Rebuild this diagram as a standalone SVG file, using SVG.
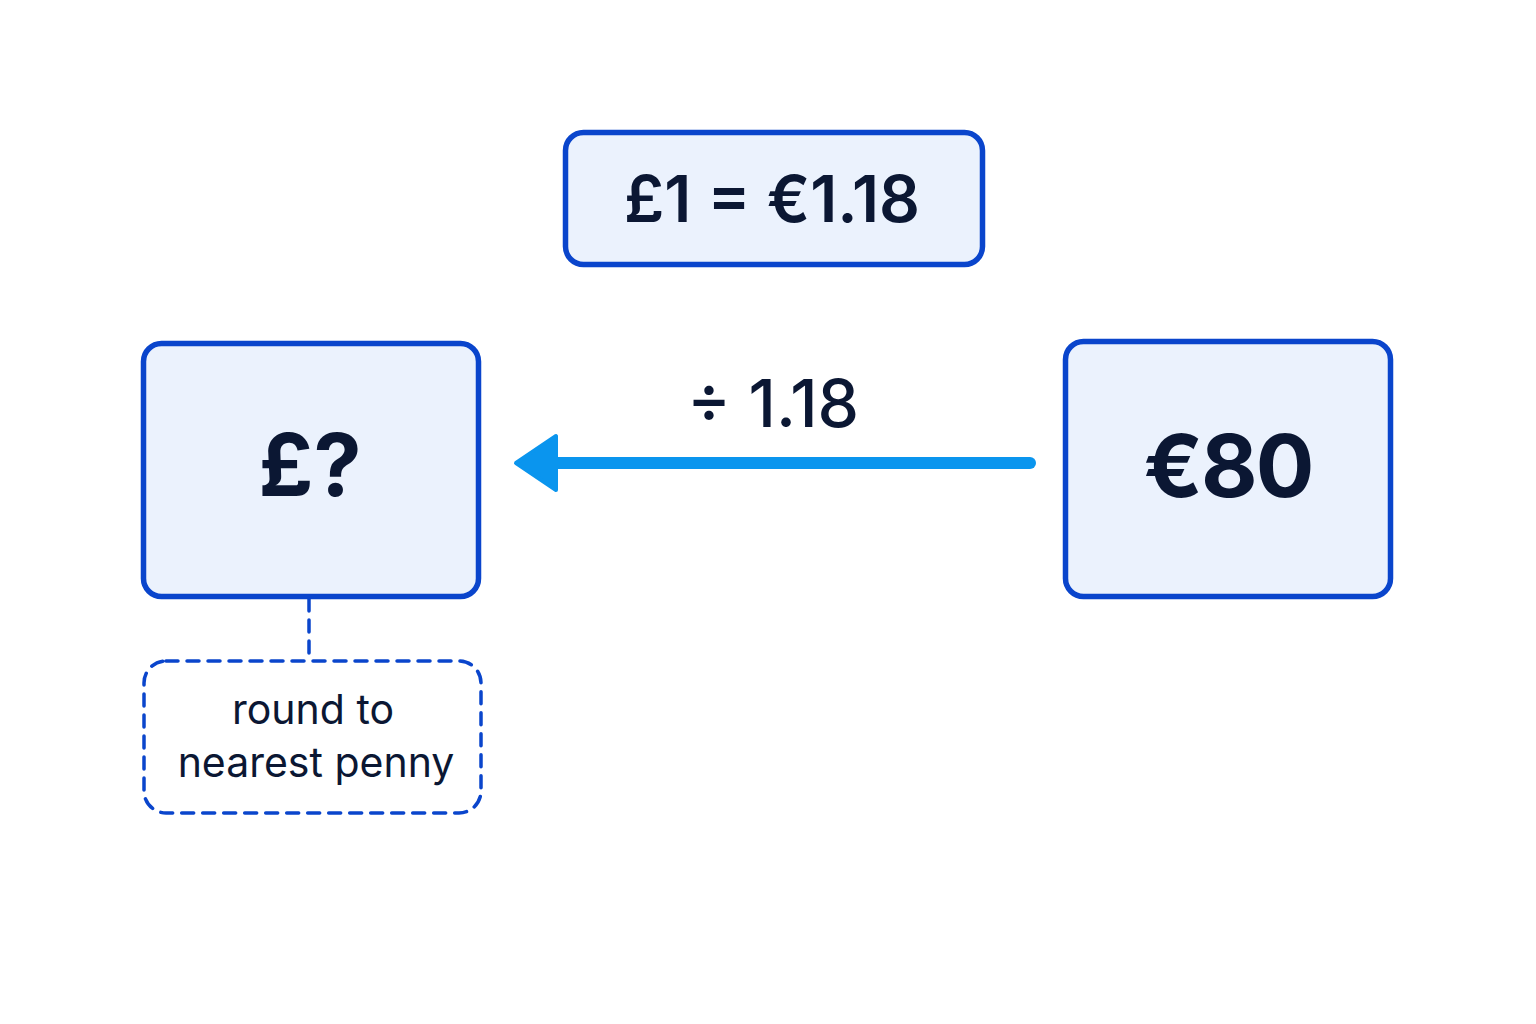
<svg xmlns="http://www.w3.org/2000/svg" width="1536" height="1024" viewBox="0 0 1536 1024">
<defs>
<style>
.box{fill:#EBF2FD;stroke:#0A45CC;stroke-width:5.5}
.note{fill:none;stroke:#0A45CC;stroke-width:3.5;stroke-dasharray:12 9;stroke-linecap:round}
.t{font-family:Inter,"Open Sans","Liberation Sans",sans-serif;fill:#0B1733;text-anchor:middle}
.b{font-weight:700}
.s{font-weight:600}
.m{font-weight:500}
.r{font-weight:400}
</style>
</defs>
<rect width="1536" height="1024" fill="#FFFFFF"/>
<g id="connectors">
<line x1="1030" y1="463" x2="550" y2="463" stroke="#0A95EE" stroke-width="12" stroke-linecap="round"/>
<path d="M516 463 L556 436 L556 490 Z" fill="#0A95EE" stroke="#0A95EE" stroke-width="4" stroke-linejoin="round"/>
<text class="t m" x="773" y="427" font-size="66">÷ 1.18</text>
<line x1="309" y1="599" x2="309" y2="660" class="note"/>
</g>
<g id="rate">
<rect class="box" x="565.5" y="132.5" width="417" height="132" rx="18"/>
<text class="t s" x="772" y="222" font-size="64">£1 = €1.18</text>
</g>
<g id="pounds">
<rect class="box" x="143.5" y="343.5" width="335" height="253" rx="18"/>
<text class="t b" x="310" y="496" font-size="86">£?</text>
</g>
<g id="euros">
<rect class="box" x="1065.5" y="341.5" width="325" height="255" rx="18"/>
<text class="t b" x="1228" y="497" font-size="87" letter-spacing="-2">€80</text>
</g>
<g id="round-note">
<rect class="note" x="144" y="661" width="337" height="152" rx="22"/>
<text class="t r" x="313" y="724" font-size="41">round to</text>
<text class="t r" x="316" y="777" font-size="41">nearest penny</text>
</g>
</svg>
